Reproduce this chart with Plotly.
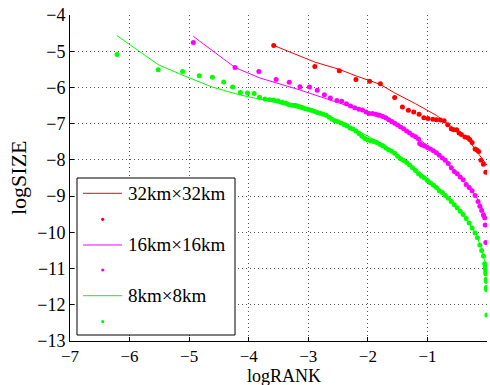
import plotly.graph_objects as go

series_names = ["32km×32km", "16km×16km", "8km×8km"]
series_colors = ["#ff0000", "#ff00ff", "#00ff00"]

x_tick_vals = [-7, -6, -5, -4, -3, -2, -1, 0]
y_tick_vals = [-13, -12, -11, -10, -9, -8, -7, -6, -5, -4]

# 32km x 32km
red_rank_x = [-3.58, -2.89, -2.48, -2.20, -1.97, -1.79, -1.55, -1.42, -1.32, -1.23, -1.14, -1.06,
              -0.99, -0.91, -0.85, -0.78, -0.72, -0.66, -0.60, -0.56, -0.51, -0.47, -0.43, -0.37,
              -0.32, -0.29, -0.25, -0.20, -0.17, -0.14, -0.10, -0.06, -0.02]
red_size_y = [-4.84, -5.42, -5.54, -5.78, -5.83, -5.90, -6.28, -6.54, -6.63, -6.68, -6.74, -6.84,
              -6.86, -6.88, -6.89, -6.90, -6.92, -7.03, -7.14, -7.17, -7.17, -7.26, -7.30, -7.37,
              -7.39, -7.44, -7.52, -7.70, -7.73, -7.77, -8.01, -8.12, -8.34]
red_fit_x = [-3.58, -2.89, -2.48, -2.20, -1.80, -1.55, -1.20, -0.85, -0.60, -0.40, -0.29, -0.15, -0.05, 0.0]
red_fit_y = [-4.84, -5.30, -5.50, -5.68, -5.91, -6.15, -6.45, -6.77, -7.08, -7.33, -7.50, -7.80, -8.02, -8.15]

# 16km x 16km
mag_rank_x = [-4.93, -4.23, -3.83, -3.54, -3.32, -3.14, -2.98, -2.85, -2.73, -2.63, -2.52, -2.44,
              -2.36, -2.29, -2.22, -2.15, -2.09, -2.03, -1.98, -1.92, -1.87, -1.83,
              -1.80, -1.75, -1.70, -1.65, -1.60, -1.55, -1.50, -1.45, -1.40, -1.35, -1.30, -1.25,
              -1.20, -1.15, -1.13, -1.10, -1.05, -1.00, -0.95, -0.90, -0.85, -0.80, -0.75, -0.70,
              -0.65, -0.60, -0.55, -0.50, -0.45, -0.40, -0.35, -0.30, -0.25, -0.20,
              -0.15, -0.12, -0.09, -0.06, -0.04, -0.03, -0.02]
mag_size_y = [-4.76, -5.45, -5.56, -5.78, -5.86, -5.98, -5.99, -6.08, -6.20, -6.29, -6.36, -6.38,
              -6.45, -6.51, -6.56, -6.60, -6.62, -6.68, -6.72, -6.72, -6.74, -6.76,
              -6.77, -6.80, -6.84, -6.89, -6.94, -6.99, -7.04, -7.09, -7.14, -7.20, -7.26, -7.32,
              -7.36, -7.42, -7.55, -7.58, -7.62, -7.66, -7.70, -7.75, -7.80, -7.87, -7.95, -8.01,
              -8.10, -8.22, -8.32, -8.38, -8.47, -8.55, -8.68, -8.76, -8.85, -8.98,
              -9.15, -9.28, -9.40, -9.52, -9.60, -9.80, -10.28]
mag_fit_x = [-4.93, -4.23, -3.81, -3.14, -2.50, -1.80, -1.50, -1.20, -0.90, -0.60, -0.40, -0.20, -0.10, 0.0]
mag_fit_y = [-4.59, -5.45, -5.74, -6.07, -6.42, -6.80, -7.05, -7.36, -7.72, -8.20, -8.55, -8.97, -9.25, -9.65]

# 8km x 8km
grn_rank_x = [-6.21, -5.52, -5.11, -4.83, -4.61, -4.42, -4.27, -4.14, -4.02, -3.91, -3.82, -3.73,
              -3.65, -3.58, -3.51, -3.44, -3.38, -3.33, -3.27, -3.22, -3.17, -3.13,
              -3.09, -3.05, -3.00, -2.95, -2.90, -2.85, -2.80, -2.75, -2.70, -2.65, -2.60, -2.55,
              -2.50, -2.45, -2.40, -2.35, -2.30, -2.25, -2.20, -2.15, -2.10, -2.05, -2.00, -1.95,
              -1.90, -1.85, -1.80, -1.75, -1.70, -1.65, -1.60, -1.55, -1.50, -1.45, -1.40, -1.35,
              -1.30, -1.25, -1.20, -1.15, -1.10, -1.05, -1.00, -0.95, -0.90, -0.85, -0.80, -0.75,
              -0.70, -0.65, -0.60, -0.55, -0.50, -0.45, -0.40, -0.35, -0.30, -0.25, -0.20,
              -0.16, -0.12, -0.09, -0.06, -0.04, -0.03, -0.025, -0.02, -0.018, -0.015, -0.013,
              -0.010, -0.009, -0.002]
grn_size_y = [-5.09, -5.51, -5.56, -5.68, -5.72, -5.85, -5.99, -6.14, -6.15, -6.17, -6.27, -6.32,
              -6.34, -6.35, -6.37, -6.41, -6.43, -6.47, -6.49, -6.49, -6.52, -6.54,
              -6.56, -6.59, -6.61, -6.63, -6.66, -6.69, -6.71, -6.74, -6.77, -6.82, -6.88, -6.92,
              -6.95, -6.98, -7.02, -7.06, -7.12, -7.15, -7.20, -7.27, -7.35, -7.41, -7.45, -7.47,
              -7.49, -7.52, -7.57, -7.61, -7.67, -7.72, -7.76, -7.82, -7.90, -7.97, -8.02, -8.07,
              -8.14, -8.22, -8.29, -8.38, -8.45, -8.50, -8.57, -8.63, -8.70, -8.76, -8.85, -8.90,
              -8.98, -9.06, -9.15, -9.24, -9.32, -9.42, -9.51, -9.62, -9.74, -9.88, -10.02,
              -10.15, -10.35, -10.50, -10.65, -10.87, -10.95, -11.02, -11.10, -11.15, -11.30, -11.35,
              -11.52, -11.58, -12.28]
grn_fit_x = [-6.21, -5.52, -5.11, -4.83, -4.61, -4.42, -4.14, -3.59, -3.03, -2.64, -2.13, -1.74,
             -1.35, -1.00, -0.70, -0.40, -0.20, -0.10, -0.05, 0.0]
grn_fit_y = [-4.57, -5.37, -5.66, -5.84, -5.99, -6.08, -6.21, -6.40, -6.63, -6.82, -7.23, -7.58,
             -8.03, -8.52, -8.95, -9.50, -10.00, -10.40, -10.70, -11.05]

dots = [(red_rank_x, red_size_y), (mag_rank_x, mag_size_y), (grn_rank_x, grn_size_y)]
fits = [(red_fit_x, red_fit_y), (mag_fit_x, mag_fit_y), (grn_fit_x, grn_fit_y)]

FONT = "Liberation Serif, Times New Roman, serif"

fig = go.Figure()
for (dx, dy), color, name in zip(dots, series_colors, series_names):
    fig.add_trace(go.Scatter(x=dx, y=dy, mode="markers", name=name,
                             marker=dict(color=color, size=5, symbol="circle", line=dict(width=0)),
                             showlegend=False))
for (fx, fy), color, name in zip(fits, series_colors, series_names):
    fig.add_trace(go.Scatter(x=fx, y=fy, mode="lines", name=name,
                             line=dict(color=color, width=1), showlegend=False))

# plot area in pixels: left 70, right 487, top 15, bottom 341
L, R, T, B = 70, 487, 15, 341
W, H = R - L, B - T

def px(xp):
    return (xp - L) / W

def py(yp):
    return (B - yp) / H

shapes = []
annotations = []
# manual legend
shapes.append(dict(type="rect", xref="paper", yref="paper", x0=px(77), x1=px(235), y0=py(335), y1=py(178),
                   fillcolor="white", line=dict(color="black", width=1), layer="above"))
line_rows = [193.3, 245, 295.7]
dot_rows = [219.3, 270, 321.7]
for color, name, lr, dr in zip(series_colors, series_names, line_rows, dot_rows):
    shapes.append(dict(type="line", xref="paper", yref="paper", x0=px(83), x1=px(122), y0=py(lr), y1=py(lr),
                       line=dict(color=color, width=1), layer="above"))
    shapes.append(dict(type="circle", xref="paper", yref="paper", xsizemode="pixel", ysizemode="pixel",
                       xanchor=px(102.7), yanchor=py(dr), x0=-1.6, x1=1.6, y0=-1.6, y1=1.6,
                       fillcolor=color, line=dict(width=0), layer="above"))
    annotations.append(dict(text=name, xref="paper", yref="paper", x=px(126), y=py(lr),
                            xanchor="left", yanchor="middle", showarrow=False,
                            font=dict(family=FONT, size=19, color="black")))

annotations.append(dict(text="logSIZE", xref="paper", yref="paper", x=px(18), y=py(178),
                        xanchor="center", yanchor="middle", textangle=-90, showarrow=False,
                        font=dict(family=FONT, size=22, color="black")))
annotations.append(dict(text="logRANK", xref="paper", yref="paper", x=px(284), y=py(364.5),
                        xanchor="center", yanchor="top", showarrow=False, borderpad=0,
                        font=dict(family=FONT, size=18, color="black")))

axis_common = dict(showline=True, linecolor="black", linewidth=1, mirror=False,
                   ticks="inside", ticklen=4, tickcolor="black", tickwidth=1,
                   showgrid=True, gridcolor="#555555", gridwidth=1, griddash="1px,3px",
                   zeroline=False)

fig.update_layout(
    width=490, height=385,
    margin=dict(l=L, r=490 - R, t=T, b=385 - B, pad=0),
    paper_bgcolor="white", plot_bgcolor="white",
    showlegend=False,
    xaxis=dict(range=[-7, 0], tickvals=x_tick_vals,
               tickfont=dict(family=FONT, size=17, color="black"), **axis_common),
    yaxis=dict(range=[-13, -4], tickvals=y_tick_vals,
               tickfont=dict(family=FONT, size=18, color="black"), **axis_common),
    shapes=shapes, annotations=annotations,
)

fig.write_html("out.html", config={"displayModeBar": False},
               post_script="document.body.style.margin='0px';")
